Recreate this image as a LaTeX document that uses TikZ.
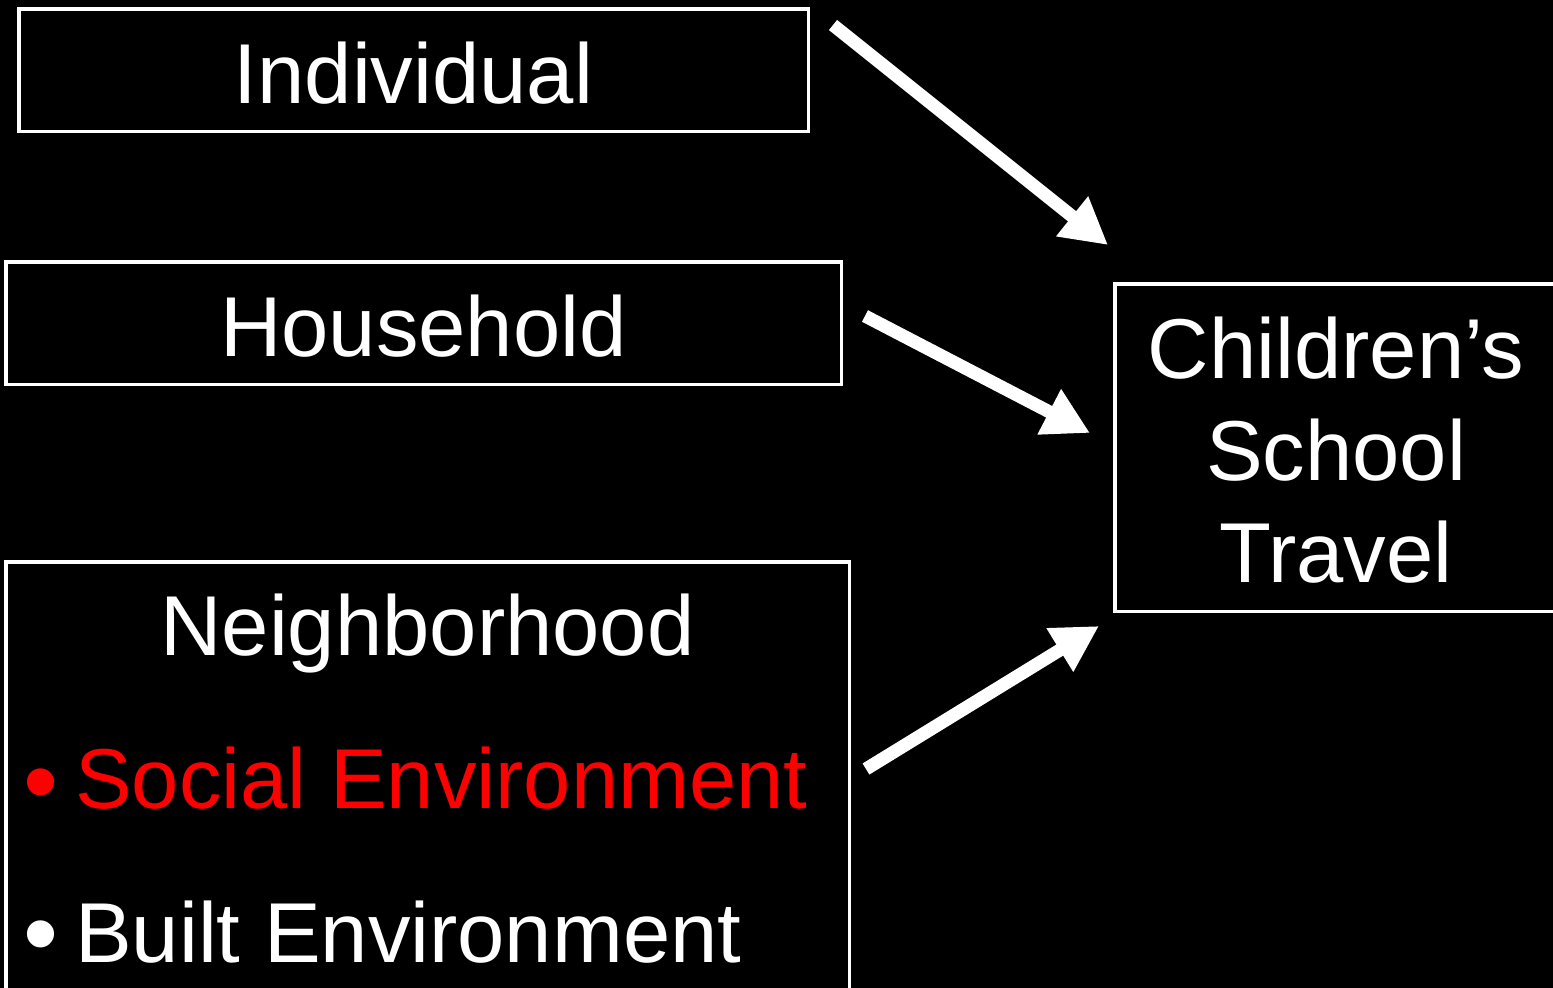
\documentclass[tikz,border=0pt]{standalone}
\usepackage{fontspec}
\setmainfont{Liberation Sans}
\usetikzlibrary{arrows.meta}
\begin{document}
\begin{tikzpicture}[x=1pt,y=-1pt,
  box/.style={draw=white,line width=3.5pt,inner sep=0pt,anchor=north west},
  lbl/.style={text=white,font=\fontsize{85}{100}\selectfont,inner sep=0pt,anchor=base},
  bul/.style={text=white,font=\fontsize{100}{110}\selectfont,inner sep=0pt,anchor=base},
  bigarrow/.style={draw=white,line width=13pt,-{Triangle[length=46pt,width=48pt]}}]
\useasboundingbox (0,0) rectangle (1553,988);
\fill[black] (0,0) rectangle (1553,988);
\clip (0,0) rectangle (1553,988);
% boxes
\node[box,minimum width=789.5pt,minimum height=122.5pt] (ind) at (17,7) {};
\node[box,minimum width=835.5pt,minimum height=122.5pt] (hh) at (4,260) {};
\node[box,minimum width=843.5pt,minimum height=460pt] (nb) at (4,560) {};
\node[box,minimum width=450pt,minimum height=327.5pt] (cst) at (1113,282) {};
% texts
\node[lbl] (tind) at (413.5,103) {Individual};
\node[lbl] (thh) at (423.5,356) {Household};
\node[lbl] (tnb) at (427.5,655) {Neighborhood};
\node[bul,text=red] (b1) at (41,815) {•};
\node[lbl,text=red,anchor=base west] (tsoc) at (75,808) {Social Environment};
\node[bul] (b2) at (41,967) {•};
\node[lbl,anchor=base west] (tbuilt) at (75,962) {Built Environment};
\node[lbl] (c1) at (1336,378) {Children’s};
\node[lbl] (c2) at (1336,480) {School};
\node[lbl] (c3) at (1336,582) {Travel};
% arrow ends
\coordinate (a1s) at (833,25);
\coordinate (a1e) at (1108,245);
\coordinate (a2s) at (865,316);
\coordinate (a2e) at (1090,433);
\coordinate (a3s) at (866,769);
\coordinate (a3e) at (1099,626);
\draw[bigarrow] (a1s) -- (a1e);
\draw[bigarrow] (a2s) -- (a2e);
\draw[bigarrow] (a3s) -- (a3e);
\end{tikzpicture}
\end{document}
